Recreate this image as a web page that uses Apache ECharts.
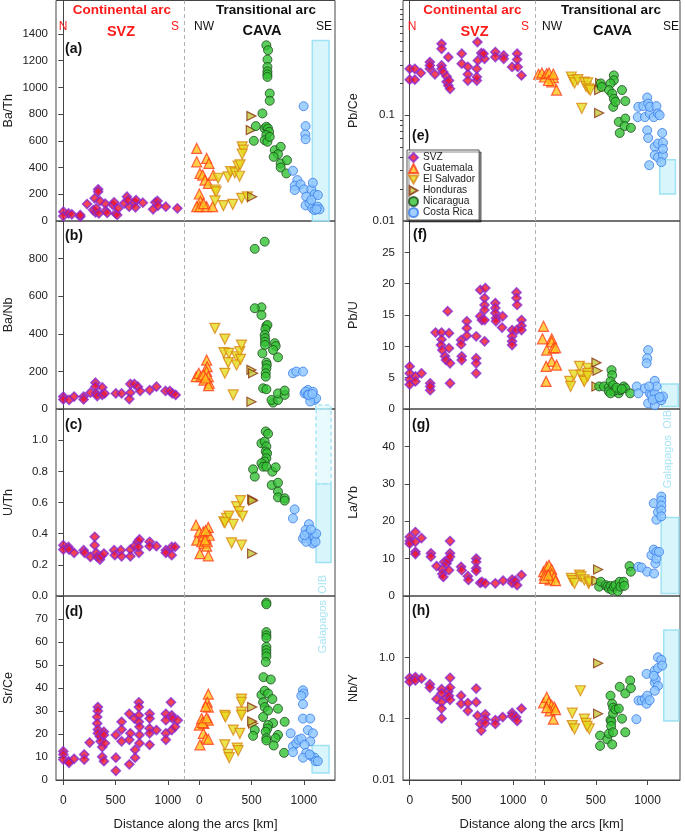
<!DOCTYPE html>
<html><head><meta charset="utf-8">
<script src="https://cdn.jsdelivr.net/npm/echarts@6/dist/echarts.min.js"></script>
<style>html,body{margin:0;padding:0;background:#fff}#c{width:685px;height:832px}</style>
</head><body><div id="c"></div>
<script>
// ---------- DATA (distance along arc [km], ratio) ----------
// CAVA distances are measured from the NW end of CAVA
const countries = ['SVZ','Guatemala','El Salvador','Honduras','Nicaragua','Costa Rica'];
const xTickKm = [0, 500, 1000];

// (a) Ba/Th
const svzBaTh = [[0,70],[0,37],[49,57],[81,50],[162,32],[162,45],[227,127],[285,82],[300,170],[333,237],[333,219],[307,65],[315,95],[340,57],[405,77],[420,60],[472,120],[485,140],[500,57],[515,45],[525,95],[582,132],[608,182],[630,107],[620,155],[680,140],[695,157],[690,102],[760,137],[858,87],[880,140],[900,150],[905,115],[980,107],[1090,95],[400,130],[350,150]];
const guaBaTh = [[-25,543],[-25,443],[70,468],[92,431],[6,356],[32,344],[54,306],[86,281],[133,344],[0,202],[10,147],[-25,107],[6,107],[70,107],[127,107],[40,130]];
const esBaTh = [[150,232],[160,218],[150,150],[230,115],[180,320],[275,330],[300,370],[340,360],[370,410],[390,420],[410,555],[420,530],[410,500],[385,335],[405,170],[460,180],[320,125]];
const honBaTh = [[498,785],[492,680],[505,182]];
const nicBaTh = [[641,1315],[657,1278],[651,1208],[651,1153],[651,1120],[651,1098],[651,1078],[673,954],[673,900],[603,805],[540,710],[521,600],[625,692],[641,705],[657,692],[667,667],[641,643],[625,605],[651,593],[673,630],[721,530],[778,555],[752,500],[711,480],[778,430],[778,400],[832,356],[838,455]];
const crBaTh = [[895,376],[937,306],[912,264],[968,274],[912,232],[1000,237],[997,859],[1016,710],[1013,648],[1016,612],[1070,237],[1085,286],[1101,199],[1133,194],[1022,182],[1016,117],[1054,132],[1080,95],[1101,82],[1133,107],[1149,87],[1120,88],[1070,157]];

// (b) Ba/Nb
const svzBaNb = [[0,66],[0,51],[55,48],[103,66],[194,66],[194,51],[259,87],[307,140],[307,119],[314,83],[324,69],[372,115],[372,75],[395,83],[502,83],[557,83],[641,133],[641,87],[631,53],[680,133],[712,119],[735,96],[825,101],[890,119],[977,96],[1019,96],[1042,83],[1074,75]];
const guaBaNb = [[-30,172],[-5,190],[16,172],[44,154],[70,260],[75,225],[70,200],[86,172],[95,137],[88,124],[38,181],[60,165]];
const esBaNb = [[149,429],[244,372],[235,300],[283,296],[244,190],[276,247],[324,75],[356,278],[356,234],[387,305],[403,340],[394,264]];
const honBaNb = [[498,208],[514,190],[498,39]];
const nicBaNb = [[530,852],[625,890],[594,541],[530,536],[594,500],[641,442],[651,447],[632,424],[625,394],[628,376],[628,358],[628,341],[603,296],[721,350],[730,335],[705,314],[752,275],[641,247],[645,234],[641,216],[635,190],[635,172],[610,110],[641,105],[705,34],[690,48],[752,48],[752,83],[816,75],[816,98]];
const crBaNb = [[895,190],[927,199],[991,199],[1038,101],[1006,83],[1016,92],[1035,75],[1070,66],[1086,92],[1101,48],[1117,57],[1060,40],[1045,75],[1080,80]];

// (c) U/Th
const svzUTh = [[0,0.326],[0,0.298],[49,0.315],[55,0.298],[103,0.277],[194,0.294],[204,0.277],[259,0.251],[300,0.380],[300,0.326],[314,0.277],[324,0.251],[350,0.234],[362,0.255],[388,0.272],[485,0.294],[492,0.262],[550,0.294],[557,0.255],[641,0.255],[641,0.298],[680,0.320],[712,0.348],[728,0.363],[722,0.277],[718,0.315],[825,0.348],[825,0.320],[890,0.320],[980,0.294],[980,0.277],[1036,0.262],[1036,0.315],[1068,0.315]];
const guaUTh = [[-32,0.455],[-25,0.358],[0,0.412],[6,0.272],[22,0.348],[38,0.384],[44,0.337],[63,0.373],[70,0.320],[76,0.348],[86,0.44],[95,0.39],[86,0.258],[38,0.412],[60,0.42],[55,0.36]];
const esUTh = [[235,0.476],[260,0.498],[283,0.513],[324,0.459],[245,0.47],[356,0.573],[381,0.541],[394,0.612],[413,0.513],[308,0.341],[403,0.326]];
const honUTh = [[505,0.620],[514,0.612],[505,0.273]];
const nicUTh = [[514,0.813],[530,0.766],[594,0.98],[625,0.991],[635,1.056],[657,1.041],[641,0.96],[635,0.927],[648,0.916],[641,0.884],[625,0.863],[594,0.852],[610,0.83],[641,0.83],[698,0.798],[730,0.826],[692,0.712],[752,0.727],[752,0.67],[752,0.633],[816,0.627],[816,0.612]];
const crUTh = [[911,0.556],[895,0.498],[1048,0.461],[991,0.369],[1016,0.423],[1038,0.40],[1054,0.38],[1070,0.352],[1086,0.337],[1101,0.384],[1111,0.348],[1117,0.40],[1022,0.348],[1006,0.39],[1067,0.427]];

// (d) Sr/Ce
const svzSrCe = [[0,12.5],[0,11.1],[0,8.9],[49,8.2],[55,7.5],[103,9.2],[200,11.1],[200,8.9],[252,16.3],[330,31.7],[330,30],[324,27.4],[324,24.6],[330,22],[330,20.3],[350,18.9],[356,16.8],[372,14.3],[388,21],[388,19.6],[372,10.1],[388,8.2],[398,16],[502,19.6],[502,9.7],[502,4],[557,25.3],[557,22],[557,16.8],[631,28.8],[631,17.5],[631,6.8],[641,20.3],[680,26.7],[686,9.7],[686,13.2],[722,33.8],[722,31.7],[722,28.1],[722,25.3],[728,23.1],[728,19.6],[728,16],[825,28.8],[825,26.7],[825,22.4],[825,20.3],[825,15.3],[890,21.7],[980,28.8],[980,26],[980,20.3],[980,17.5],[1029,33.8],[1036,28.1],[1045,26.7],[1036,21.7],[1068,23.1],[1094,26]];
const guaSrCe = [[0,23.9],[22,26.7],[44,24.6],[86,26],[86,37.3],[76,33.8],[86,31.7],[60,32],[38,20.3],[63,18.2],[86,17.7],[6,15.3],[30,25],[70,27]];
const esSrCe = [[244,28.1],[250,27.4],[244,15.3],[276,11.1],[286,9.7],[324,21.7],[387,20.3],[362,13.9],[371,12.8],[403,35.2],[403,33.8],[403,29.5],[403,28.1]];
const honSrCe = [[505,31.7],[514,24.6],[505,25.5]];
const nicSrCe = [[641,77.1],[641,76.4],[641,64.3],[641,62.9],[641,61.8],[641,57.9],[641,56.5],[641,55.1],[641,53.7],[635,51.3],[613,44.7],[683,43.7],[594,37],[625,38.8],[657,37.6],[610,33.8],[625,31.7],[657,30.2],[698,35.2],[610,27.4],[705,24.8],[657,23.9],[651,22.4],[635,21],[530,21.7],[514,19.2],[641,18.2],[641,17.2],[752,31],[752,19.6],[730,18.2],[711,15],[816,25.3],[810,11.8]];
const crSrCe = [[873,20.3],[895,14.6],[895,12.1],[927,16],[949,17.5],[975,18],[991,39],[997,37.6],[975,36.6],[991,33],[991,26.7],[1060,26.7],[1038,21.7],[1086,20.3],[1060,16.8],[1006,15.3],[1022,11.8],[991,9.7],[1070,10.4],[1101,9.7],[1111,8.2],[1133,8.2],[1054,11.1]];

// (e) Pb/Ce
const svzPbCe = [[0,0.275],[0,0.217],[49,0.275],[49,0.217],[107,0.251],[195,0.318],[195,0.275],[195,0.296],[244,0.244],[308,0.473],[308,0.425],[308,0.296],[308,0.275],[325,0.256],[357,0.233],[373,0.354],[357,0.207],[373,0.191],[390,0.178],[380,0.213],[503,0.382],[503,0.307],[562,0.244],[562,0.213],[562,0.287],[649,0.213],[649,0.23],[649,0.275],[659,0.33],[655,0.492],[692,0.387],[724,0.342],[714,0.382],[828,0.396],[828,0.355],[909,0.368],[909,0.342],[990,0.286],[1039,0.382],[1039,0.336],[1045,0.286],[1081,0.238]];
const guaPbCe = [[-54,0.244],[-22,0.251],[3,0.23],[25,0.247],[47,0.251],[89,0.227],[73,0.207],[120,0.173],[41,0.213],[89,0.245]];
const esPbCe = [[263,0.23],[278,0.214],[294,0.202],[326,0.217],[364,0.116],[389,0.206],[405,0.187],[421,0.202],[430,0.178],[446,0.173]];
const honPbCe = [[541,0.202],[532,0.173],[532,0.105]];
const nicPbCe = [[548,0.2],[557,0.185],[674,0.238],[674,0.214],[642,0.2],[627,0.173],[658,0.16],[674,0.143],[668,0.12],[690,0.134],[753,0.173],[785,0.136],[722,0.0865],[785,0.093],[779,0.079],[731,0.068],[839,0.076]];
const crPbCe = [[905,0.096],[911,0.12],[959,0.122],[975,0.096],[997,0.147],[1006,0.129],[1022,0.104],[1022,0.12],[1060,0.096],[1086,0.122],[1101,0.104],[1117,0.1],[997,0.072],[1006,0.061],[1070,0.0503],[1101,0.054],[1142,0.068],[1149,0.055],[1070,0.042],[1101,0.040],[1149,0.042],[1133,0.036],[1016,0.0337],[1149,0.048]];

// (f) Pb/U
const svzPbU = [[0,6.8],[0,5.7],[0,4.7],[0,3.9],[55,5.2],[55,4.4],[114,5.7],[198,4.1],[198,3.0],[198,3.6],[250,12.2],[308,12.2],[308,11.1],[302,10.2],[315,9.4],[341,8.4],[351,7.8],[367,15.6],[380,12.1],[380,9.7],[390,7.3],[390,4.1],[497,11],[497,10.3],[503,8.4],[503,7.8],[552,14],[552,12.9],[552,11.7],[643,11.6],[643,8.1],[643,7.3],[643,5.7],[682,19],[731,19.3],[682,14.8],[698,14.2],[724,17.7],[724,16.6],[724,15.8],[724,14.2],[724,10.8],[828,16.9],[828,16.1],[828,15.3],[834,14.5],[834,14],[899,14.8],[893,13],[990,12.6],[990,11.6],[990,10.8],[990,10.2],[1033,18.6],[1033,17.7],[1039,16.6],[1033,12.6],[1081,14.2],[1081,13.3],[1081,12.6]];
const guaPbU = [[-6,13.2],[-16,11.2],[73,11.2],[73,10.7],[25,9.4],[89,9.7],[111,9.8],[73,7.6],[19,6.8],[120,7],[19,4.4]];
const esPbU = [[247,4.4],[256,3.6],[288,5.4],[342,6.8],[358,5.4],[383,4.6],[389,4.4],[421,6.5],[421,5.7],[421,5.2]];
const honPbU = [[506,7.4],[516,6.1],[506,3.6]];
const nicPbU = [[532,3.6],[579,3.6],[627,3.5],[652,6.2],[658,5.4],[642,4.4],[668,3.8],[626,2.8],[674,2.8],[721,2.5],[737,3.0],[690,3.0],[769,3.6],[785,3.3],[832,2.5],[642,2.5],[700,3.4],[750,3.2]];
const crPbU = [[896,3.6],[912,2.5],[975,3.3],[1006,9.4],[997,8.1],[991,7.3],[1070,4.5],[1022,2.5],[1038,2.2],[1006,0.9],[1070,0.6],[1070,2.5],[1101,1.7],[1133,1.4],[1149,2.0],[1086,3.6],[1016,3.6],[1050,1.5],[1117,1.9]];

// (g) La/Yb
const svzLaYb = [[0,15.8],[0,14.7],[0,14],[55,17.1],[55,14.5],[55,11.8],[55,11.2],[114,15.5],[205,11.4],[205,10.5],[260,8],[315,7.1],[315,5.9],[325,5.1],[334,9.1],[357,8.7],[373,9.6],[380,6.9],[390,14.7],[390,11.4],[390,10.5],[497,7.8],[503,6.9],[562,5.3],[568,4.3],[643,10],[643,9.1],[643,7.4],[643,6.7],[682,3.5],[698,3.8],[731,3.4],[828,3.4],[903,4.1],[990,4.4],[990,3.5],[1022,4.1],[1039,2.9],[1081,5.6]];
const guaLaYb = [[-6,6.5],[3,5.6],[25,7.8],[47,8.2],[73,7.1],[73,5.9],[98,5.1],[57,4.3],[3,4.7],[111,4.1],[41,5.6]];
const esLaYb = [[263,4.7],[272,4.1],[294,3.4],[342,5.6],[358,5.1],[389,4.3],[430,3.4],[437,3.8]];
const honLaYb = [[522,7.1],[506,4.1]];
const nicLaYb = [[532,2.5],[548,3.8],[595,2.9],[611,2.5],[627,2.0],[642,2.7],[658,1.6],[674,2.5],[690,2.9],[712,1.3],[731,3.8],[737,2.5],[769,3.8],[775,2.7],[826,8],[839,6.5]];
const crLaYb = [[912,7.8],[943,7.6],[997,6.5],[1063,6],[1038,10.9],[1060,12.4],[1086,11.8],[1076,8.7],[1086,10],[1111,11.8],[1060,24.8],[1086,20.4],[1101,22.4],[1133,26.6],[1133,25.5],[1133,24.2],[1133,22.9],[1133,21.3]];

// (h) Nb/Y
const svzNbY = [[0,0.464],[0,0.401],[55,0.476],[55,0.42],[114,0.453],[195,0.364],[195,0.322],[260,0.21],[308,0.303],[308,0.259],[308,0.186],[308,0.146],[308,0.101],[357,0.223],[373,0.278],[380,0.237],[390,0.464],[390,0.322],[390,0.203],[497,0.237],[497,0.175],[562,0.18],[562,0.134],[643,0.31],[643,0.186],[656,0.112],[682,0.082],[692,0.064],[731,0.118],[731,0.098],[731,0.084],[828,0.095],[828,0.082],[899,0.106],[990,0.124],[990,0.111],[1029,0.106],[1039,0.092],[1081,0.146]];
const guaNbY = [[-6,0.18],[25,0.223],[47,0.186],[73,0.165],[98,0.155],[57,0.134],[89,0.098],[25,0.151],[111,0.14]];
const esNbY = [[272,0.123],[272,0.077],[294,0.068],[351,0.285],[389,0.098],[405,0.084],[437,0.068],[415,0.075]];
const honNbY = [[522,0.80],[522,0.12]];
const nicNbY = [[541,0.053],[541,0.036],[611,0.046],[627,0.057],[642,0.095],[650,0.09],[642,0.237],[658,0.175],[667,0.151],[667,0.121],[648,0.076],[667,0.06],[658,0.038],[690,0.141],[722,0.146],[731,0.33],[753,0.1],[785,0.258],[785,0.06],[832,0.42],[839,0.314]];
const crNbY = [[892,0.098],[913,0.198],[943,0.198],[975,0.21],[991,0.175],[997,0.237],[991,0.537],[1070,0.607],[1101,0.67],[1101,1.0],[1133,0.907],[1142,0.737],[1070,0.387],[1080,0.44],[1101,0.343],[1070,0.285],[1020,0.2],[1060,0.5]];

// Galapagos OIB ranges: [CAVA km from, CAVA km to, ratio low, ratio high]
const oibBaTh = [1080, 1240, 0, 1350];
const oibBaNb = [1113, 1259, 0, 21];
const oibUTh = [1116, 1259, 0.215, 0.72];
const oibUThExt = [1116, 1259, 0.72, 1.2];
const oibSrCe = [1078, 1240, 3, 15];
const oibPbCe = [1118, 1270, 0.018, 0.038];
const oibPbU = [1134, 1297, 0.4, 4];
const oibLaYb = [1132, 1302, 0.7, 21];
const oibNbY = [1157, 1302, 0.092, 2.8];

// ---------- CHART ----------
const OFF = 1300; // CAVA placed after SVZ on the shared axis
const shift = a => a.map(p => [p[0] + OFF, p[1]]);

const styles = [
  {symbol:'diamond', symbolSize:9, itemStyle:{color:'#f0142a', borderColor:'#8a2ad0', borderWidth:1.6}},
  {symbol:'triangle', symbolSize:10, itemStyle:{color:'#ffc21e', borderColor:'#ff3c1a', borderWidth:1.2}},
  {symbol:'path://M0,0L10,0L5,8.7Z', symbolSize:10, itemStyle:{color:'#e6dc1e', borderColor:'#d88612', borderWidth:1.2}},
  {symbol:'path://M0,0L8.7,5L0,10Z', symbolSize:9, itemStyle:{color:'#c4c83a', borderColor:'#8a3210', borderWidth:1.2}},
  {symbol:'circle', symbolSize:9, itemStyle:{color:'#33c233', borderColor:'#1e4a1e', borderWidth:1}},
  {symbol:'circle', symbolSize:9, itemStyle:{color:'#8cc6ff', borderColor:'#3a7ce8', borderWidth:1}}
];

const cols = [
  {left:56, width:279, min:-70, max:2597, divider:1157},
  {left:403, width:277, min:-65, max:2614, divider:1212}
];
const rows = [{top:0.5,height:220.5},{top:221,height:188},{top:409,height:187},{top:596,height:188.5}];

const f1 = v => v.toFixed(1);
const panels = [
  {c:0,r:0,name:'Ba/Th',type:'value',max:1650,ticks:[0,200,400,600,800,1000,1200,1400],fmt:String,data:[svzBaTh,guaBaTh,esBaTh,honBaTh,nicBaTh,crBaTh],oib:[[oibBaTh,false]]},
  {c:0,r:1,name:'Ba/Nb',type:'value',max:1000,ticks:[0,200,400,600,800],fmt:String,data:[svzBaNb,guaBaNb,esBaNb,honBaNb,nicBaNb,crBaNb],oib:[[oibBaNb,true]]},
  {c:0,r:2,name:'U/Th',type:'value',max:1.2,ticks:[0,0.2,0.4,0.6,0.8,1.0],fmt:f1,data:[svzUTh,guaUTh,esUTh,honUTh,nicUTh,crUTh],oib:[[oibUTh,false],[oibUThExt,true]]},
  {c:0,r:3,name:'Sr/Ce',type:'value',max:80,ticks:[0,10,20,30,40,50,60,70],fmt:String,data:[svzSrCe,guaSrCe,esSrCe,honSrCe,nicSrCe,crSrCe],oib:[[oibSrCe,false]],bottom:true},
  {c:1,r:0,name:'Pb/Ce',type:'log',min:0.01,max:1.216,ticks:[0.01,0.1],minor:[0.02,0.03,0.04,0.05,0.06,0.07,0.08,0.09,0.2,0.3,0.4,0.5,0.6,0.7,0.8,0.9,1],fmt:v=>String(+v.toPrecision(2)),data:[svzPbCe,guaPbCe,esPbCe,honPbCe,nicPbCe,crPbCe],oib:[[oibPbCe,false]]},
  {c:1,r:1,name:'Pb/U',type:'value',max:30,ticks:[0,5,10,15,20,25],fmt:String,data:[svzPbU,guaPbU,esPbU,honPbU,nicPbU,crPbU],oib:[[oibPbU,false]]},
  {c:1,r:2,name:'La/Yb',type:'value',max:50,ticks:[0,10,20,30,40],fmt:String,data:[svzLaYb,guaLaYb,esLaYb,honLaYb,nicLaYb,crLaYb],oib:[[oibLaYb,false]]},
  {c:1,r:3,name:'Nb/Y',type:'log',min:0.01,max:10,ticks:[0.01,0.1,1],fmt:v=>v>=1?'1.0':String(+v.toPrecision(2)),data:[svzNbY,guaNbY,esNbY,honNbY,nicNbY,crNbY],oib:[[oibNbY,false]],bottom:true}
];

const FONT = '"Liberation Sans", Arial, sans-serif';
const grid = [], xAxis = [], yAxis = [], series = [];
panels.forEach((p, i) => {
  const col = cols[p.c], row = rows[p.r];
  grid.push({left:col.left, top:row.top, width:col.width, height:row.height, show:true, borderColor:'#444', borderWidth:1, backgroundColor:'transparent', containLabel:false});
  const tickVals = xTickKm.concat(xTickKm.map(v => v + OFF));
  xAxis.push({
    type:'value', gridIndex:i, min:col.min, max:col.max, splitLine:{show:false},
    axisLine:{show:!!p.bottom, lineStyle:{color:'#444'}},
    axisTick:{show:!!p.bottom, customValues:tickVals, length:5, lineStyle:{color:'#444'}},
    axisLabel:{show:!!p.bottom, customValues:tickVals, formatter:v => String(v >= OFF - 200 ? v - OFF : v), fontSize:12, color:'#222', fontFamily:FONT, margin:15},
    name: p.bottom ? 'Distance along the arcs [km]' : '', nameLocation:'middle', nameGap:38,
    nameTextStyle:{fontSize:13, color:'#222', fontFamily:FONT}
  });
  const yi = yAxis.length;
  yAxis.push({
    type:p.type, gridIndex:i, position:'left', min:p.type==='log'?p.min:0, max:p.max, splitLine:{show:false},
    axisLine:{show:true, lineStyle:{color:'#444'}},
    axisTick:{show:true, customValues:p.ticks, length:5, lineStyle:{color:'#444'}},
    axisLabel:{customValues:p.ticks, formatter:p.fmt, fontSize:11.5, color:'#222', fontFamily:FONT, margin:8},
    name:p.name, nameLocation:'middle', nameGap:p.c===0?41:43,
    nameTextStyle:{fontSize:12.5, color:'#222', fontFamily:FONT}
  });
  if (p.minor) {
    yAxis.push({
      type:'log', gridIndex:i, position:'left', offset:0, min:p.min, max:p.max, splitLine:{show:false},
      axisLine:{show:false}, axisLabel:{show:false},
      axisTick:{show:true, customValues:p.minor, length:3, lineStyle:{color:'#444'}}
    });
  }
  p.data.forEach((arr, k) => {
    const st = styles[k];
    const s = {
      type:'scatter', name:countries[k], xAxisIndex:i, yAxisIndex:yi,
      data: k === 0 ? arr : shift(arr),
      symbol:st.symbol, symbolSize:st.symbolSize,
      itemStyle:st.itemStyle, silent:true, animation:false, z:2
    };
    if (k === 0) {
      s.markLine = {silent:true, symbol:'none', label:{show:false}, animation:false,
        lineStyle:{type:[4,3], color:'#b0b0b0', width:1}, data:[{xAxis:col.divider}]};
    }
    if (k === 5) {
      s.markArea = {silent:true, animation:false, z:1, data: p.oib.map(([o, dashed]) => [
        {xAxis:o[0]+OFF, yAxis:o[2], itemStyle: dashed
          ? {color:'rgba(215,245,252,0.55)', borderColor:'#a6e6f6', borderWidth:1.5, borderType:[4,3]}
          : {color:'rgba(190,238,250,0.6)', borderColor:'#9ee2f4', borderWidth:1.5}},
        {xAxis:o[1]+OFF, yAxis:o[3]}
      ])};
    }
    series.push(s);
  });
});

const RED = '#ff1a1a';
const txt = (x, y, text, opt) => Object.assign({type:'text', x, y, silent:true, z:10,
  style:Object.assign({text, fill:'#111', font:'12px '+FONT, align:'center', verticalAlign:'middle'}, opt||{})});
const graphic = [];
[[122,266,63,121,175,204,262,324],[472.5,611,412,474.5,525,552,612.5,671]].forEach(c => {
  graphic.push(txt(c[0], 10, 'Continental arc', {fill:RED, font:'bold 13.5px '+FONT}));
  graphic.push(txt(c[1], 10, 'Transitional arc', {fill:'#111', font:'bold 13.5px '+FONT}));
  graphic.push(txt(c[2], 27, 'N', {fill:RED}));
  graphic.push(txt(c[3], 32, 'SVZ', {fill:RED, font:'bold 14.5px '+FONT}));
  graphic.push(txt(c[4], 27, 'S', {fill:RED}));
  graphic.push(txt(c[5], 27, 'NW'));
  graphic.push(txt(c[6], 31, 'CAVA', {font:'bold 14.5px '+FONT}));
  graphic.push(txt(c[7], 27, 'SE'));
});
[['(a)',65,49],['(b)',65,236],['(c)',65,425],['(d)',65,612],['(e)',412,136],['(f)',413,235],['(g)',412,425],['(h)',412,611]]
  .forEach(([t,x,y]) => graphic.push(txt(x, y, t, {align:'left', font:'bold 14px '+FONT})));
const gal = (x, y) => Object.assign(txt(x, y, 'Galapagos  OIB', {fill:'#a8e4f4', font:'11px '+FONT}), {rotation:Math.PI/2});
graphic.push(gal(323, 614));
graphic.push(gal(668, 449));

const chart = echarts.init(document.getElementById('c'));
chart.setOption({
  animation:false,
  textStyle:{fontFamily:FONT},
  grid, xAxis, yAxis, series, graphic,
  legend:{
    data:countries, orient:'vertical', left:407, top:150, itemGap:0, itemWidth:9, itemHeight:9,
    padding:[2,4,2,1], backgroundColor:'#fff', borderColor:'#555', borderWidth:1,
    shadowColor:'rgba(0,0,0,0.45)', shadowBlur:0, shadowOffsetX:2, shadowOffsetY:2,
    textStyle:{fontSize:10.2, lineHeight:11, color:'#222', fontFamily:FONT},
    selectedMode:false, z:20
  }
});
</script></body></html>
